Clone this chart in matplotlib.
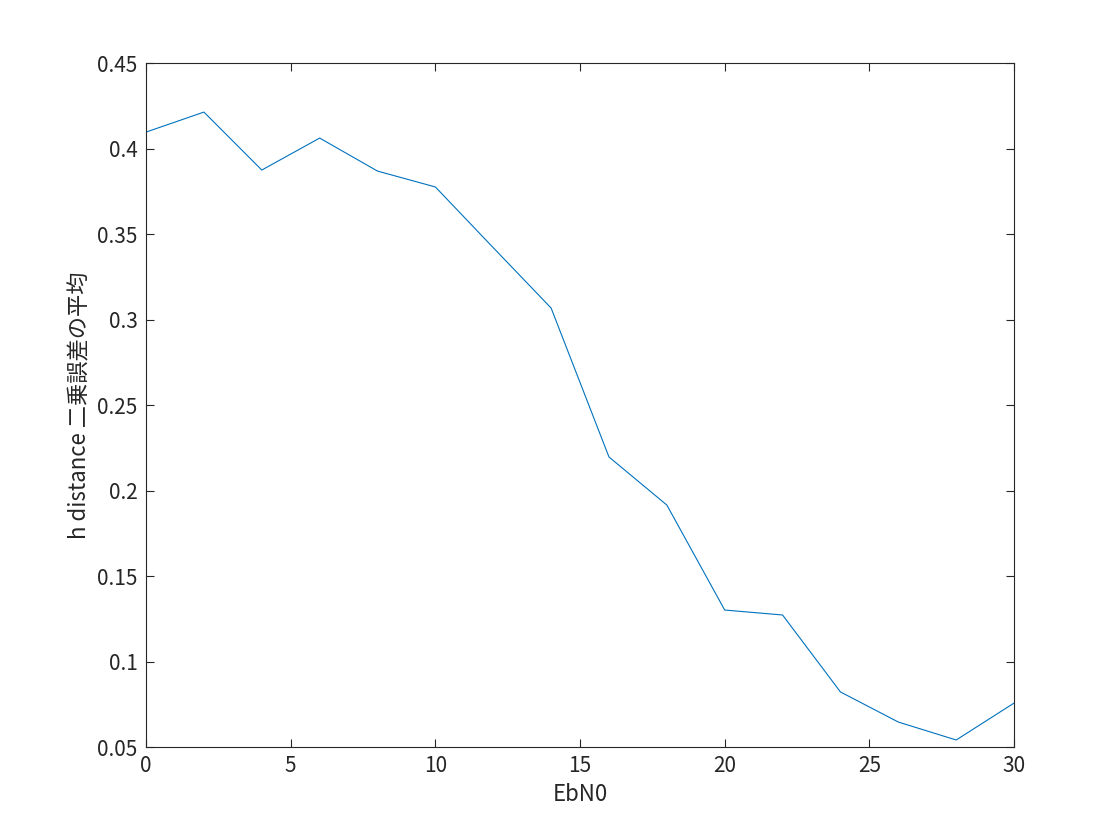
import matplotlib.pyplot as plt

plt.rcParams['font.family'] = ['Noto Sans CJK JP', 'DejaVu Sans']

ebn0 = [0, 2, 4, 6, 8, 10, 12, 14, 16, 18, 20, 22, 24, 26, 28, 30]
h_mse = [0.4096, 0.4213, 0.3874, 0.4061, 0.3868, 0.3775, 0.342, 0.3067,
         0.2196, 0.1915, 0.1301, 0.1272, 0.0822, 0.0646, 0.0541, 0.0757]

fig = plt.figure(figsize=(11.2, 8.4), dpi=100)
ax = fig.add_axes([0.1304, 0.1107, 0.7750, 0.8143])
ax.plot(ebn0, h_mse, color='#0072BD', linewidth=0.8)

ax.set_xlim(0, 30)
ax.set_ylim(0.05, 0.45)
ax.set_xticks([0, 5, 10, 15, 20, 25, 30])
ax.set_yticks([0.05, 0.1, 0.15, 0.2, 0.25, 0.3, 0.35, 0.4, 0.45])
ax.set_yticklabels(['0.05', '0.1', '0.15', '0.2', '0.25', '0.3', '0.35', '0.4', '0.45'])
ax.tick_params(direction='in', top=True, right=True, labelsize=15, length=6,
               colors='#262626', pad=6)
for s in ax.spines.values():
    s.set_linewidth(0.8)
    s.set_color('#262626')

ax.set_xlabel('EbN0', fontsize=16, color='#262626')
ax.set_ylabel('h distance 二乗誤差の平均', fontsize=16, color='#262626')

fig.savefig('out.png', dpi=100)
